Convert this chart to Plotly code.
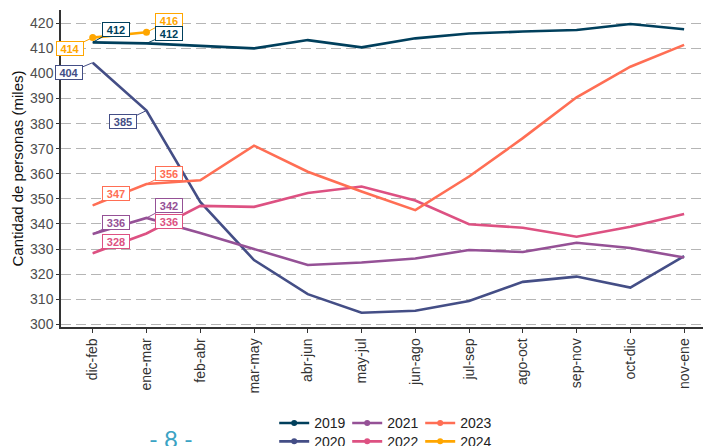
import plotly.graph_objects as go

# periods (rolling quarters) and values per year, in thousands of people
periods = ["dic-feb", "ene-mar", "feb-abr", "mar-may", "abr-jun", "may-jul",
           "jun-ago", "jul-sep", "ago-oct", "sep-nov", "oct-dic", "nov-ene"]
v2019 = [412.4, 412.0, 411.0, 410.0, 413.3, 410.4, 414.0, 415.9, 416.7, 417.3, 419.7, 417.6]
v2020 = [404.3, 385.2, 348.8, 325.6, 312.0, 304.6, 305.4, 309.3, 316.9, 319.0, 314.6, 327.2]
v2021 = [336.0, 342.4, 336.4, 330.0, 323.6, 324.6, 326.2, 329.6, 328.8, 332.5, 330.4, 326.6]
v2022 = [328.3, 336.2, 347.2, 346.8, 352.3, 354.9, 349.3, 339.9, 338.5, 334.9, 338.9, 344.0]
v2023 = [347.4, 355.9, 357.4, 371.2, 360.8, 352.9, 345.5, 358.9, 374.2, 390.5, 402.7, 411.4]
v2024 = [414.3, 416.4]

years = ["2019", "2020", "2021", "2022", "2023", "2024"]
series = [v2019, v2020, v2021, v2022, v2023, v2024]
colors = ["#003f5c", "#444e86", "#955196", "#dd5182", "#ff6e54", "#ffa600"]

fig = go.Figure()

for yr, vals, col in zip(years, series, colors):
    fig.add_trace(go.Scatter(
        x=periods[:len(vals)], y=vals, name=yr,
        mode="lines+markers" if yr == "2024" else "lines",
        line=dict(color=col, width=2.6),
        marker=dict(size=7, color=col),
        showlegend=False,
    ))

# legend-only entries (line + dot keys), two rows like the original
legend_rows = {"2019": "legend", "2021": "legend", "2023": "legend",
               "2020": "legend2", "2022": "legend2", "2024": "legend2"}
for yr in ["2019", "2021", "2023", "2020", "2022", "2024"]:
    col = colors[years.index(yr)]
    fig.add_trace(go.Scatter(
        x=[None], y=[None], name=yr, mode="lines+markers",
        line=dict(color=col, width=2.6), marker=dict(size=6, color=col),
        legend=legend_rows[yr],
    ))

# repelled labels for the first two periods: (year, index, dx, dy) in pixels
label_pos = [
    ("2024", 0, -23, 11), ("2024", 1, 23, -12),
    ("2019", 0, 23, -13), ("2019", 1, 23, -10),
    ("2020", 0, -24, 10), ("2020", 1, -23, 11),
    ("2023", 0, 23, -12), ("2023", 1, 23, -11),
    ("2021", 0, 23, -11), ("2021", 1, 23, -12),
    ("2022", 0, 23, -12), ("2022", 1, 23, -12),
]
for yr, i, dx, dy in label_pos:
    k = years.index(yr)
    val = series[k][i]
    fig.add_annotation(
        x=periods[i], y=val, text=f"<b>{round(val)}</b>",
        showarrow=True, arrowhead=0, arrowwidth=1, arrowcolor=colors[k],
        ax=dx, ay=dy, standoff=0,
        font=dict(size=11, color=colors[k]),
        bgcolor="white", bordercolor=colors[k], borderwidth=1, borderpad=1,
        width=24, height=11,
    )

fig.add_annotation(
    x=0.169, y=-0.353, xref="paper", yref="paper", showarrow=False,
    text="- 8 -", font=dict(size=24, color="#3aa3c4", family="Lato"),
    xanchor="center", yanchor="middle",
)

legend_style = dict(
    orientation="h", x=0.328, xanchor="left", yanchor="middle",
    entrywidth=28, entrywidthmode="pixels", itemwidth=30,
    font=dict(size=14, color="#222222"), bgcolor="rgba(0,0,0,0)",
)

# page body adds 8px around the figure, so the figure is sized to fit the window
fig.update_layout(
    width=703, height=438,
    margin=dict(l=53, r=0, t=2, b=119, autoexpand=False),
    plot_bgcolor="white", paper_bgcolor="white",
    font=dict(family="Liberation Sans, Arial, sans-serif"),
    legend=dict(**legend_style, y=-0.304),
    legend2=dict(**legend_style, y=-0.362),
)

fig.update_xaxes(
    type="category", categoryorder="array", categoryarray=periods,
    range=[-0.59, 11.5], showgrid=False, zeroline=False, automargin=False,
    showline=True, linecolor="#333333", linewidth=1.5,
    ticks="outside", ticklen=4, tickcolor="#333333",
    tickangle=-90, tickfont=dict(size=14, color="#333333"),
)
fig.update_yaxes(
    range=[298.9, 425.3], tickvals=list(range(300, 421, 10)), automargin=False,
    showgrid=True, gridcolor="#b5b5b5", gridwidth=1.4, griddash="10px,5px",
    zeroline=False, showline=True, linecolor="#333333", linewidth=1.5,
    ticks="outside", ticklen=3, tickcolor="#333333",
    tickfont=dict(size=14, color="#4d4d4d"),
    title=dict(text="Cantidad de personas (miles)", font=dict(size=15, color="#111111"), standoff=3),
)

fig.write_html("out.html")
